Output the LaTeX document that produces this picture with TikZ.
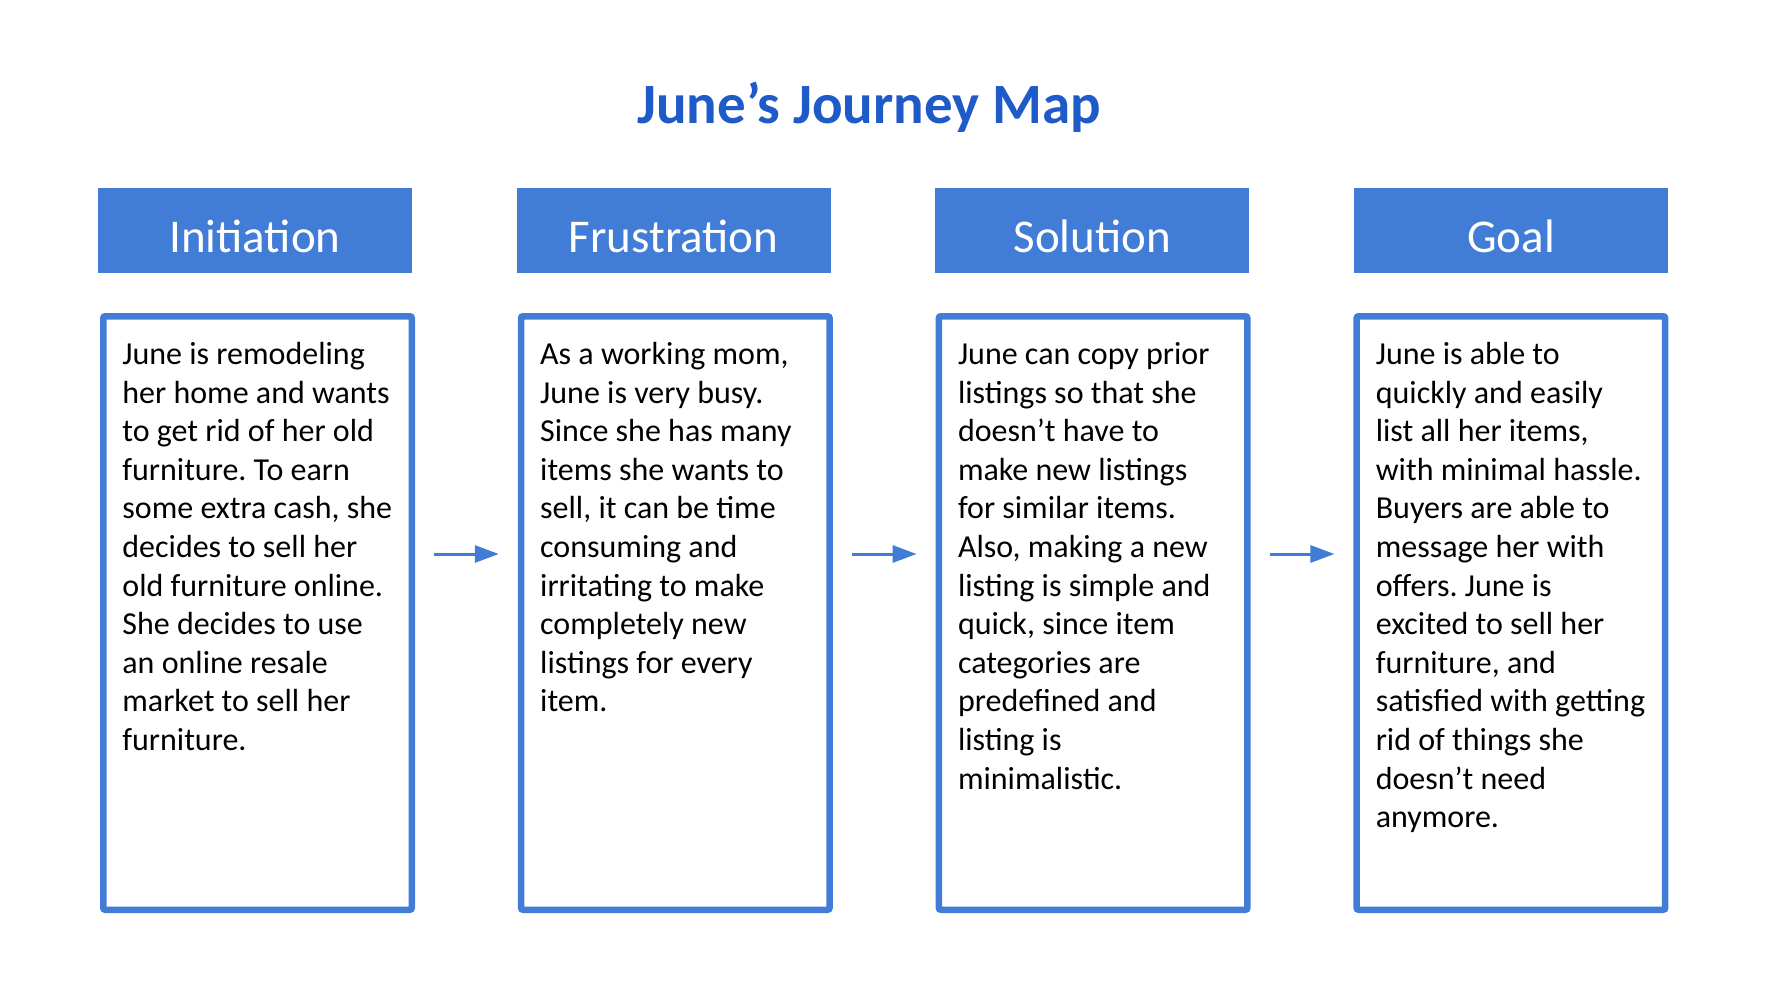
\documentclass[tikz,border=0pt]{standalone}
\usepackage{fontspec}
\setmainfont{Carlito}
\usetikzlibrary{arrows.meta,calc}
\definecolor{jblue}{RGB}{65,124,214}
\definecolor{tblue}{RGB}{30,90,200}
\frenchspacing
\begin{document}
\begin{tikzpicture}[x=0.5pt,y=-0.5pt,
  hdr/.style={fill=jblue, minimum width=157pt, minimum height=42.5pt, inner sep=0pt,
    text=white, font=\fontsize{23.5}{28}\selectfont, text height=26.5pt, text depth=5pt},
  card/.style={draw=jblue, line width=3.25pt, rounded corners=1pt,
    minimum width=154.25pt, minimum height=296.75pt, inner sep=0pt},
  body/.style={anchor=north west, inner sep=0pt, align=left,
    font=\fontsize{16}{19.3}\selectfont},
  arr/.style={draw=jblue, line width=1.5pt, -{Triangle[length=12pt,width=8.5pt]}}]
\useasboundingbox (0,0) rectangle (1770,996);

\node[anchor=base, text=tblue, font=\fontsize{28.5}{34}\selectfont\bfseries] (title) at (869,123) {June’s Journey Map};

\node[hdr] (h1) at (255,230.5) {Initiation};
\node[hdr] (h2) at (673.7,230.5) {Frustration};
\node[hdr] (h3) at (1092.4,230.5) {Solution};
\node[hdr] (h4) at (1511.1,230.5) {Goal};

\node[card] (b1) at (257.5,613) {};
\node[card] (b2) at (675.3,613) {};
\node[card] (b3) at (1093.1,613) {};
\node[card] (b4) at (1510.9,613) {};

\node[body] (t1) at (122,338) {\rule{0pt}{13pt}June is remodeling\\her home and wants\\to get rid of her old\\furniture. To earn\\some extra cash, she\\decides to sell her\\old furniture online.\\She decides to use\\an online resale\\market to sell her\\furniture.};
\node[body] (t2) at (539.8,338) {\rule{0pt}{13pt}As a working mom,\\June is very busy.\\Since she has many\\items she wants to\\sell, it can be time\\consuming and\\irritating to make\\completely new\\listings for every\\item.};
\node[body] (t3) at (957.6,338) {\rule{0pt}{13pt}June can copy prior\\listings so that she\\doesn’t have to\\make new listings\\for similar items.\\Also, making a new\\listing is simple and\\quick, since item\\categories are\\predefined and\\listing is\\minimalistic.};
\node[body] (t4) at (1375.4,338) {\rule{0pt}{13pt}June is able to\\quickly and easily\\list all her items,\\with minimal hassle.\\Buyers are able to\\message her with\\offers. June is\\excited to sell her\\furniture, and\\satisfied with getting\\rid of things she\\doesn’t need\\anymore.};

\draw[arr] ($(b1.east)+(19,-59)$) -- ($(b2.west)+(-19,-59)$);
\draw[arr] ($(b2.east)+(19,-59)$) -- ($(b3.west)+(-19,-59)$);
\draw[arr] ($(b3.east)+(19,-59)$) -- ($(b4.west)+(-19,-59)$);
\end{tikzpicture}
\end{document}
